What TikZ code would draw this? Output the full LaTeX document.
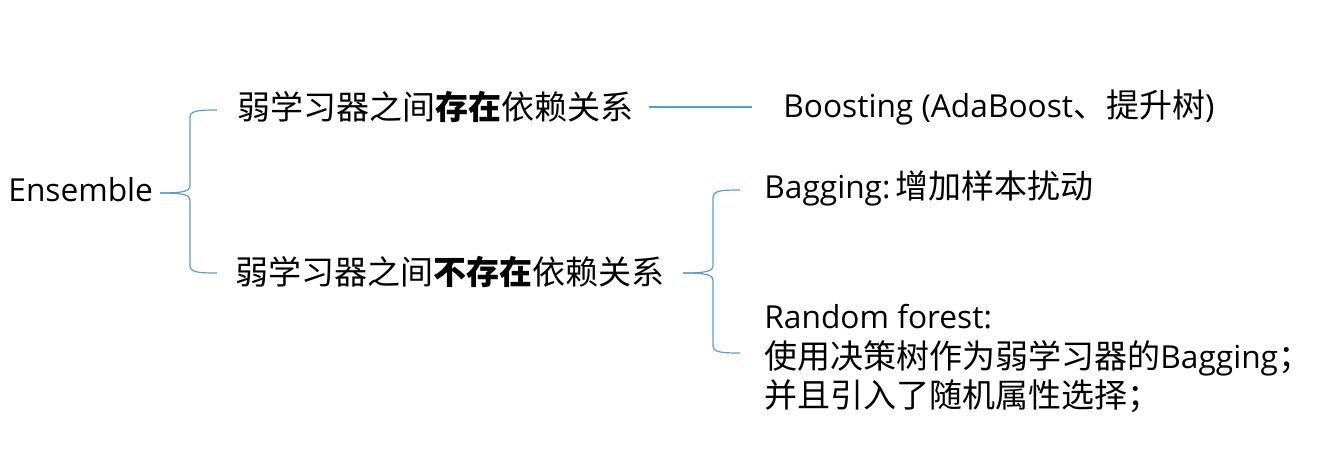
\documentclass[tikz,border=0pt]{standalone}
\usepackage{fontspec}
\setmainfont{Open Sans}[Scale=0.96]
\newfontfamily\cjk{Noto Sans CJK SC}
\usepackage{xcolor}
\usetikzlibrary{calc}
\definecolor{bracecol}{HTML}{5B9BD5}

\begin{document}
\begin{tikzpicture}[
    x=0.5pt, y=-0.5pt,
    font=\fontsize{16.5}{19.7}\selectfont,
    leaf/.style={anchor=west, inner sep=0pt, align=left},
    brace/.style={draw=bracecol, line width=0.6pt}
]
\useasboundingbox (0,0) rectangle (1328,460);

\node[leaf] (ens) at (8,190) {Ensemble};
\node[leaf] (dep) at (237,107) {\cjk 弱学习器之间\textbf{存在}依赖关系};
\node[leaf] (indep) at (235,272) {\cjk 弱学习器之间\textbf{不存在}依赖关系};
\node[leaf] (boost) at (783,107) {Boosting (AdaBoost{\cjk 、提升树})};
\node[leaf] (bag) at (764,188) {Bagging:\,{\cjk 增加样本扰动}};
\node[leaf, anchor=north west] (rf) at (764,304) {Random forest:\\{\cjk 使用决策树作为弱学习器的}Bagging{\cjk ；}\\{\cjk 并且引入了随机属性选择；}};

% first brace
\draw[brace] (217,110) .. controls (196,110) and (190,111) .. (190,118) -- (190,186)
    .. controls (190,191) and (184,193) .. (160,193);
\draw[brace] (217,273) .. controls (196,273) and (190,272) .. (190,265) -- (190,200)
    .. controls (190,195) and (184,193) .. (160,193);

% second brace
\draw[brace] (740,190) .. controls (719,190) and (713,191) .. (713,198) -- (713,266)
    .. controls (713,271) and (707,273) .. (683,273);
\draw[brace] (740,353) .. controls (719,353) and (713,352) .. (713,345) -- (713,280)
    .. controls (713,275) and (707,273) .. (683,273);

\draw[brace] (dep.east) ++(15,0) -- ($(boost.west)+(-31,0)$);
\end{tikzpicture}
\end{document}
